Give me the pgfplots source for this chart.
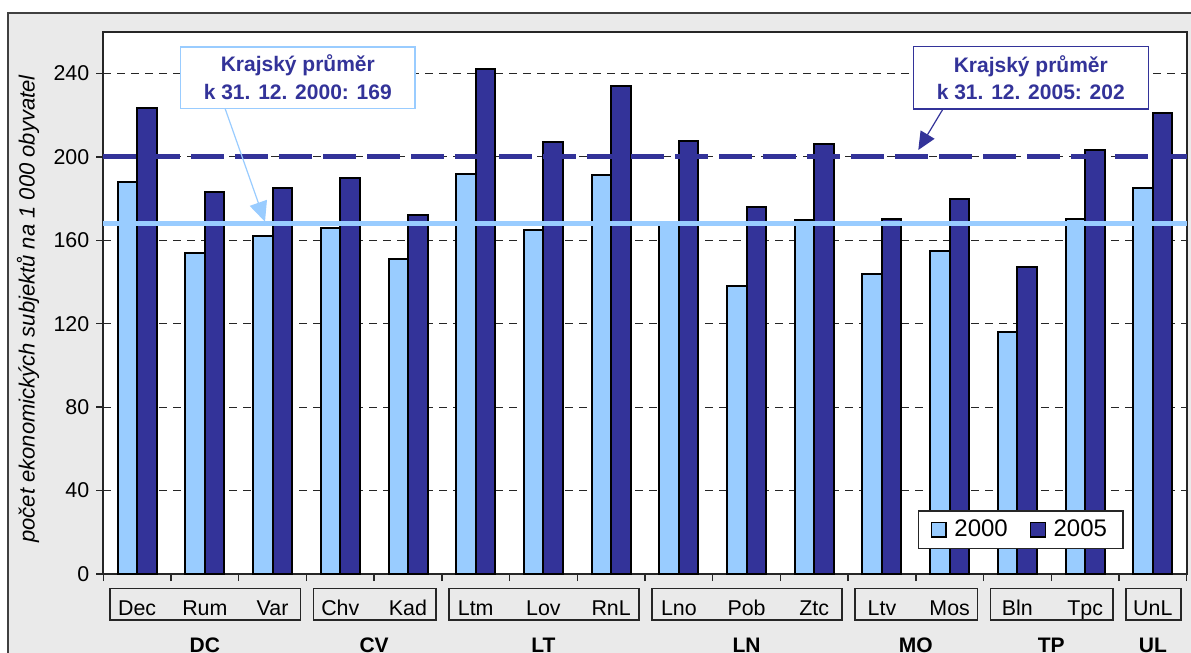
\documentclass[border=0pt]{standalone}
\usepackage{fontspec}
\setmainfont{Liberation Sans}
\usepackage{pgfplots}
\pgfplotsset{compat=1.18}
\usetikzlibrary{arrows.meta}
\definecolor{c2000}{RGB}{153,204,255}
\definecolor{c2005}{RGB}{51,51,153}
\definecolor{framebg}{RGB}{234,234,234}
\tikzset{grpbox/.style={black!85, line width=0.8pt},
  grpname/.style={anchor=base, font=\fontsize{10.5}{12}\bfseries\selectfont, inner sep=0pt}}

\begin{document}
\begin{tikzpicture}
\useasboundingbox (0,0) rectangle (595.5pt,-326.5pt);
\clip (0,0) rectangle (595.5pt,-326.5pt);
\draw[fill=framebg, draw=black!75, line width=1pt] (4.2pt,-6.4pt) rectangle (640pt,-360pt);
\begin{axis}[
  at={(51.65pt,-287pt)}, anchor=south west,
  scale only axis, width=541.7pt, height=271.15pt,
  xmin=-0.5, xmax=15.5, ymin=0, ymax=260,
  clip=false,
  axis background/.style={fill=white},
  axis line style={black!85, line width=0.9pt},
  ytick={0,40,...,240},
  xtick={0,...,15},
  xticklabels={Dec,Rum,Var,Chv,Kad,Ltm,Lov,RnL,Lno,Pob,Ztc,Ltv,Mos,Bln,Tpc,UnL},
  minor xtick={-0.5,0.5,...,15.5},
  major x tick style={draw=none},
  tick style={black!85, line width=0.7pt},
  tick align=outside, tick pos=left,
  major tick length=3.5pt, minor tick length=3.5pt,
  ymajorgrids,
  major grid style={black!85, line width=0.5pt, dash pattern=on 4pt off 3pt},
  tick label style={font=\fontsize{10.7}{12}\selectfont},
  /pgf/number format/assume math mode=true,
  xticklabel style={anchor=base, yshift=-17pt},
  ylabel={počet ekonomických subjektů na 1 000 obyvatel},
  ylabel style={font=\fontsize{11}{12}\itshape\selectfont,
    at={(axis description cs:-0.0695,0.4887)}, anchor=center},
  legend columns=2,
  legend image code/.code={\draw[#1,/tikz/.cd,line width=0.8pt] (0pt,-3.7pt) rectangle (7.4pt,3.7pt);
    \path[draw=none, fill=none] (0pt,0pt) -- (9.5pt,0pt);},
  legend style={at={(0.752,0.0455)}, anchor=south west, draw=black!85,
    line width=0.6pt, fill=white, font=\fontsize{12}{14}\selectfont,
    inner xsep=6pt, inner ysep=2.5pt,
    /tikz/every even column/.append style={column sep=9pt}},
]
\addplot[ybar, bar width=0.288, bar shift=-0.144, fill=c2000, draw=black, line width=1pt]
  coordinates {(0,188) (1,154) (2,162) (3,166) (4,151) (5,192) (6,165) (7,191.5)
    (8,169) (9,138) (10,169.5) (11,144) (12,155) (13,116) (14,170) (15,185)};
\addplot[ybar, bar width=0.288, bar shift=0.144, fill=c2005, draw=black, line width=1pt]
  coordinates {(0,223.5) (1,183) (2,185) (3,190) (4,172) (5,242) (6,207) (7,234)
    (8,207.5) (9,176) (10,206) (11,170) (12,180) (13,147) (14,203.5) (15,221)};
\legend{2000,2005}
\addplot[c2000, line width=2.5pt, forget plot] coordinates {(-0.5,168) (15.5,168)};
\addplot[c2005, line width=2.5pt, dash pattern=on 16.5pt off 5.5pt, forget plot]
  coordinates {(-0.5,200) (15.5,200)};
% group boxes under the category names
\draw[grpbox] ([xshift=3.5pt,yshift=-7.15pt]axis cs:-0.5,0) rectangle ([xshift=-3pt,yshift=-23pt]axis cs:2.5,0);
\draw[grpbox] ([xshift=3.5pt,yshift=-7.15pt]axis cs:2.5,0) rectangle ([xshift=-3pt,yshift=-23pt]axis cs:4.5,0);
\draw[grpbox] ([xshift=3.5pt,yshift=-7.15pt]axis cs:4.5,0) rectangle ([xshift=-3pt,yshift=-23pt]axis cs:7.5,0);
\draw[grpbox] ([xshift=3.5pt,yshift=-7.15pt]axis cs:7.5,0) rectangle ([xshift=-3pt,yshift=-23pt]axis cs:10.5,0);
\draw[grpbox] ([xshift=3.5pt,yshift=-7.15pt]axis cs:10.5,0) rectangle ([xshift=-3pt,yshift=-23pt]axis cs:12.5,0);
\draw[grpbox] ([xshift=3.5pt,yshift=-7.15pt]axis cs:12.5,0) rectangle ([xshift=-3pt,yshift=-23pt]axis cs:14.5,0);
\draw[grpbox] ([xshift=3.5pt,yshift=-7.15pt]axis cs:14.5,0) rectangle ([xshift=-3pt,yshift=-23pt]axis cs:15.5,0);
% group names
\node[grpname] at ([yshift=-39pt]axis cs:1,0) {DC};
\node[grpname] at ([yshift=-39pt]axis cs:3.5,0) {CV};
\node[grpname] at ([yshift=-39pt]axis cs:6,0) {LT};
\node[grpname] at ([yshift=-39pt]axis cs:9,0) {LN};
\node[grpname] at ([yshift=-39pt]axis cs:11.5,0) {MO};
\node[grpname] at ([yshift=-39pt]axis cs:13.5,0) {TP};
\node[grpname] at ([yshift=-39pt]axis cs:15,0) {UL};
\end{axis}
\node[draw=c2000, line width=0.8pt, fill=white, minimum width=117.2pt, minimum height=30.8pt,
  align=center, text=c2005, font=\fontsize{10.5}{13.85}\bfseries\selectfont, inner sep=0pt]
  at (148.9pt,-38.75pt) {Krajský průměr\\k 31. 12. 2000: 169};
\draw[c2000, line width=0.6pt, -{Triangle[length=10pt,width=9pt]}]
  (112.5pt,-54.15pt) -- (132.5pt,-110.85pt);
\node[draw=c2005, line width=0.8pt, fill=white, minimum width=117.5pt, minimum height=31.2pt,
  align=center, text=c2005, font=\fontsize{10.5}{13.85}\bfseries\selectfont, inner sep=0pt]
  at (515.4pt,-38.9pt) {Krajský průměr\\k 31. 12. 2005: 202};
\draw[c2005, line width=0.6pt, -{Triangle[length=9pt,width=8pt]}]
  (471.5pt,-54.5pt) -- (459.15pt,-75pt);
\end{tikzpicture}
\end{document}
